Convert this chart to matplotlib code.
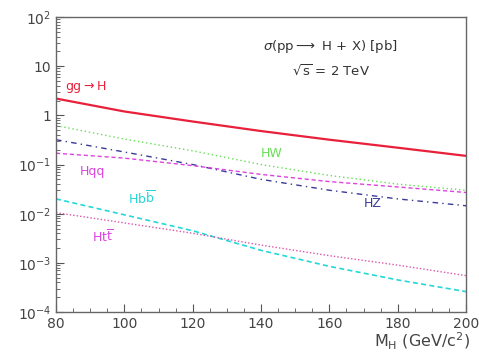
import matplotlib.pyplot as plt
from matplotlib.ticker import FixedLocator, FuncFormatter

# Higgs mass points (GeV/c^2)
mh = [80, 100, 120, 140, 160, 180, 200]

# cross sections in pb
sig_gg = [2.2, 1.2, 0.75, 0.48, 0.32, 0.22, 0.15]
sig_hw = [0.62, 0.33, 0.19, 0.10, 0.06, 0.04, 0.03]
sig_hz = [0.32, 0.18, 0.10, 0.05, 0.03, 0.02, 0.0145]
sig_hqq = [0.17, 0.135, 0.095, 0.063, 0.045, 0.035, 0.027]
sig_hbb = [0.02, 0.0095, 0.0045, 0.0018, 0.00085, 0.00045, 0.00026]
sig_htt = [0.0105, 0.0065, 0.004, 0.0023, 0.0014, 0.0009, 0.00055]

ytick_vals = [1e-4, 1e-3, 1e-2, 1e-1, 1, 10, 100]
ytick_labels = ["$10^{-4}$", "$10^{-3}$", "$10^{-2}$", "$10^{-1}$", "1", "10", "$10^{2}$"]
xtick_vals = [80, 100, 120, 140, 160, 180, 200]

fig = plt.figure(figsize=(4.79, 3.55), dpi=100)
ax = fig.add_axes([0.117, 0.121, 0.856, 0.831])

ax.plot(mh, sig_gg, color="#e8203a", lw=1.6, ls="-")
ax.plot(mh, sig_hw, color="#66dd55", lw=1.0, ls=(0, (1, 2)))
ax.plot(mh, sig_hz, color="#3a3a9a", lw=1.0, ls=(0, (4, 3, 1, 3)))
ax.plot(mh, sig_hqq, color="#dd44dd", lw=1.0, ls=(0, (3, 2)))
ax.plot(mh, sig_hbb, color="#22d8d8", lw=1.2, ls=(0, (3, 2)))
ax.plot(mh, sig_htt, color="#dd55aa", lw=1.0, ls=(0, (1, 1.5)))

ax.set_yscale("log")
ax.set_xlim(80, 200)
ax.set_ylim(1e-4, 1e2)
ax.yaxis.set_major_locator(FixedLocator(ytick_vals))
ax.yaxis.set_major_formatter(FuncFormatter(lambda v, p: ytick_labels[ytick_vals.index(v)] if v in ytick_vals else ""))
ax.set_xticks(xtick_vals)
ax.set_xticks(list(range(80, 201, 5)), minor=True)
ax.tick_params(direction="in", which="both", colors="#555555", labelcolor="#444444", labelsize=10)
ax.tick_params(which="major", length=6)
ax.tick_params(which="minor", length=3)
for s in ax.spines.values():
    s.set_color("#666666")
    s.set_linewidth(1.0)

# labels on the curves
ax.text(82.5, 3.3, r"gg$\rightarrow$H", color="#e8203a", fontsize=9)
ax.text(140, 0.14, "HW", color="#66dd55", fontsize=9)
ax.text(87, 0.062, "Hqq", color="#dd44dd", fontsize=9)
ax.text(170, 0.0135, "HZ", color="#3a3a9a", fontsize=9)
ax.text(101, 0.016, r"Hb$\overline{\rm b}$", color="#22d8d8", fontsize=9)
ax.text(90.5, 0.0026, r"Ht$\overline{\rm t}$", color="#dd44dd", fontsize=9)

ax.text(0.67, 0.9, r"$\sigma$(pp$\longrightarrow$ H + X) [pb]", transform=ax.transAxes,
        ha="center", va="center", fontsize=9.5, color="#333333")
ax.text(0.67, 0.815, r"$\sqrt{\rm s}$ = 2 TeV", transform=ax.transAxes,
        ha="center", va="center", fontsize=9.5, color="#333333")

fig.text(0.982, 0.008, r"M$_{\rm H}$ (GeV/c$^{2}$)", ha="right", va="bottom",
         fontsize=11.5, color="#444444")

fig.savefig("out.png", dpi=100)
